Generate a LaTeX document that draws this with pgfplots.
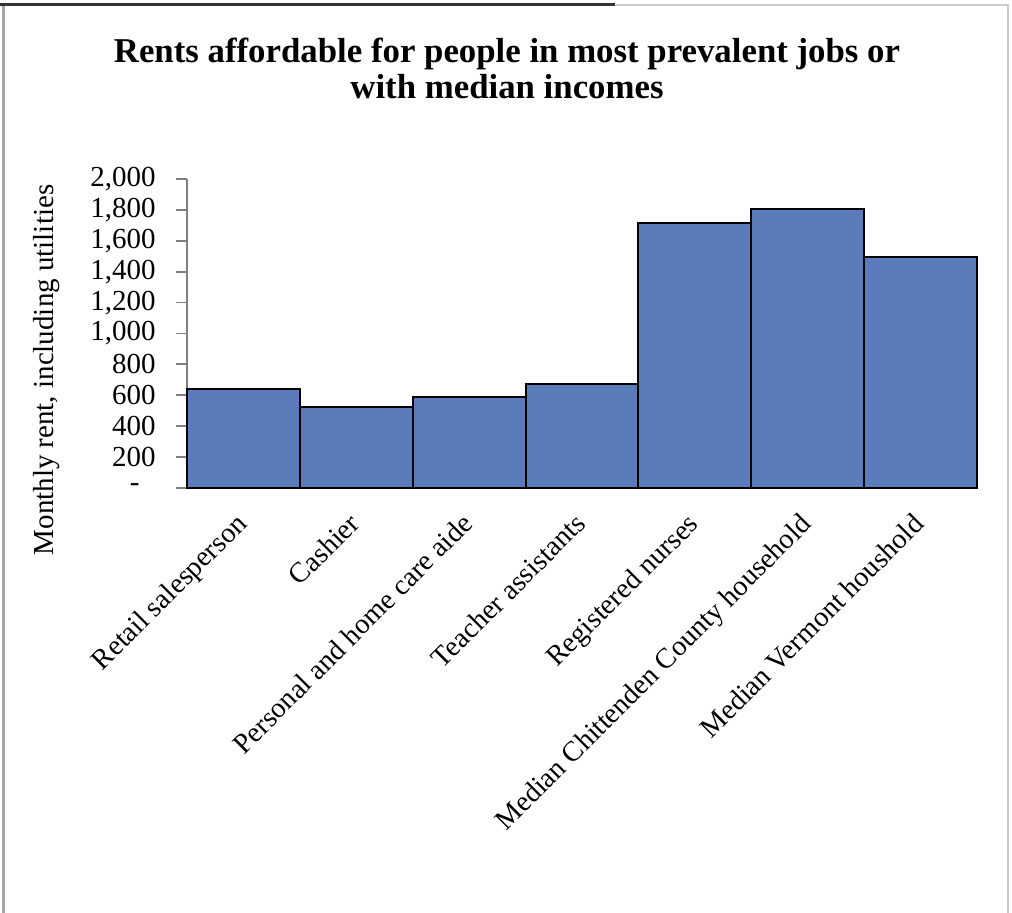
\documentclass[border=0pt]{standalone}
\usepackage{fontspec}
\setmainfont{Liberation Serif}
\usepackage{pgfplots}
\pgfplotsset{compat=1.18}
\definecolor{barblue}{RGB}{90,124,187}
\begin{document}
\begin{tikzpicture}[x=0.5pt,y=0.5pt]
\path[use as bounding box] (0,0) rectangle (1012,913);
\draw[gray!40, line width=1.2pt] (615,908) -- (1008,908) -- (1008,0);
\draw[gray!70, line width=1.5pt] (3,908) -- (3,0);
\draw[black!80, line width=1.5pt] (0,908) -- (615,908);
\node[font=\bfseries\fontsize{17.4}{18}\selectfont, align=center] at (507,845)
  {Rents affordable for people in most prevalent jobs or\\with median incomes};
\node[rotate=90, font=\fontsize{14.5}{17}\selectfont] at (47,543) {Monthly rent, including utilities};
\begin{axis}[
  at={(93.5pt,212.5pt)}, anchor=south west,
  scale only axis, width=395pt, height=154.5pt,
  xmin=-0.5, xmax=6.5, ymin=0, ymax=2000,
  axis lines*=left,
  axis line style={gray, line width=0.9pt},
  ytick={0,200,...,2000},
  yticklabels={{-\kern8pt},200,400,600,800,{1,000},{1,200},{1,400},{1,600},{1,800},{2,000}},
  xtick={0,...,6},
  xticklabels={Retail salesperson,Cashier,Personal and home care aide,Teacher assistants,Registered nurses,Median Chittenden County household,Median Vermont houshold},
  major x tick style={draw=none},
  major y tick style={gray, line width=0.9pt},
  tick align=outside, major tick length=5.5pt,
  yticklabel style={font=\fontsize{14.5}{17}\selectfont, inner sep=0pt, xshift=-10pt},
  xticklabel style={font=\fontsize{14.2}{17}\selectfont, xshift=-4.5pt, yshift=-6pt, rotate=45, anchor=north east, inner sep=0pt},
  /pgf/number format/assume math mode=true,
  clip=false,
]
\addplot[ybar, bar width=1, fill=barblue, draw=black, line width=1pt]
  coordinates {(0,640) (1,525) (2,590) (3,675) (4,1715) (5,1805) (6,1495)};
\end{axis}
\end{tikzpicture}
\end{document}
